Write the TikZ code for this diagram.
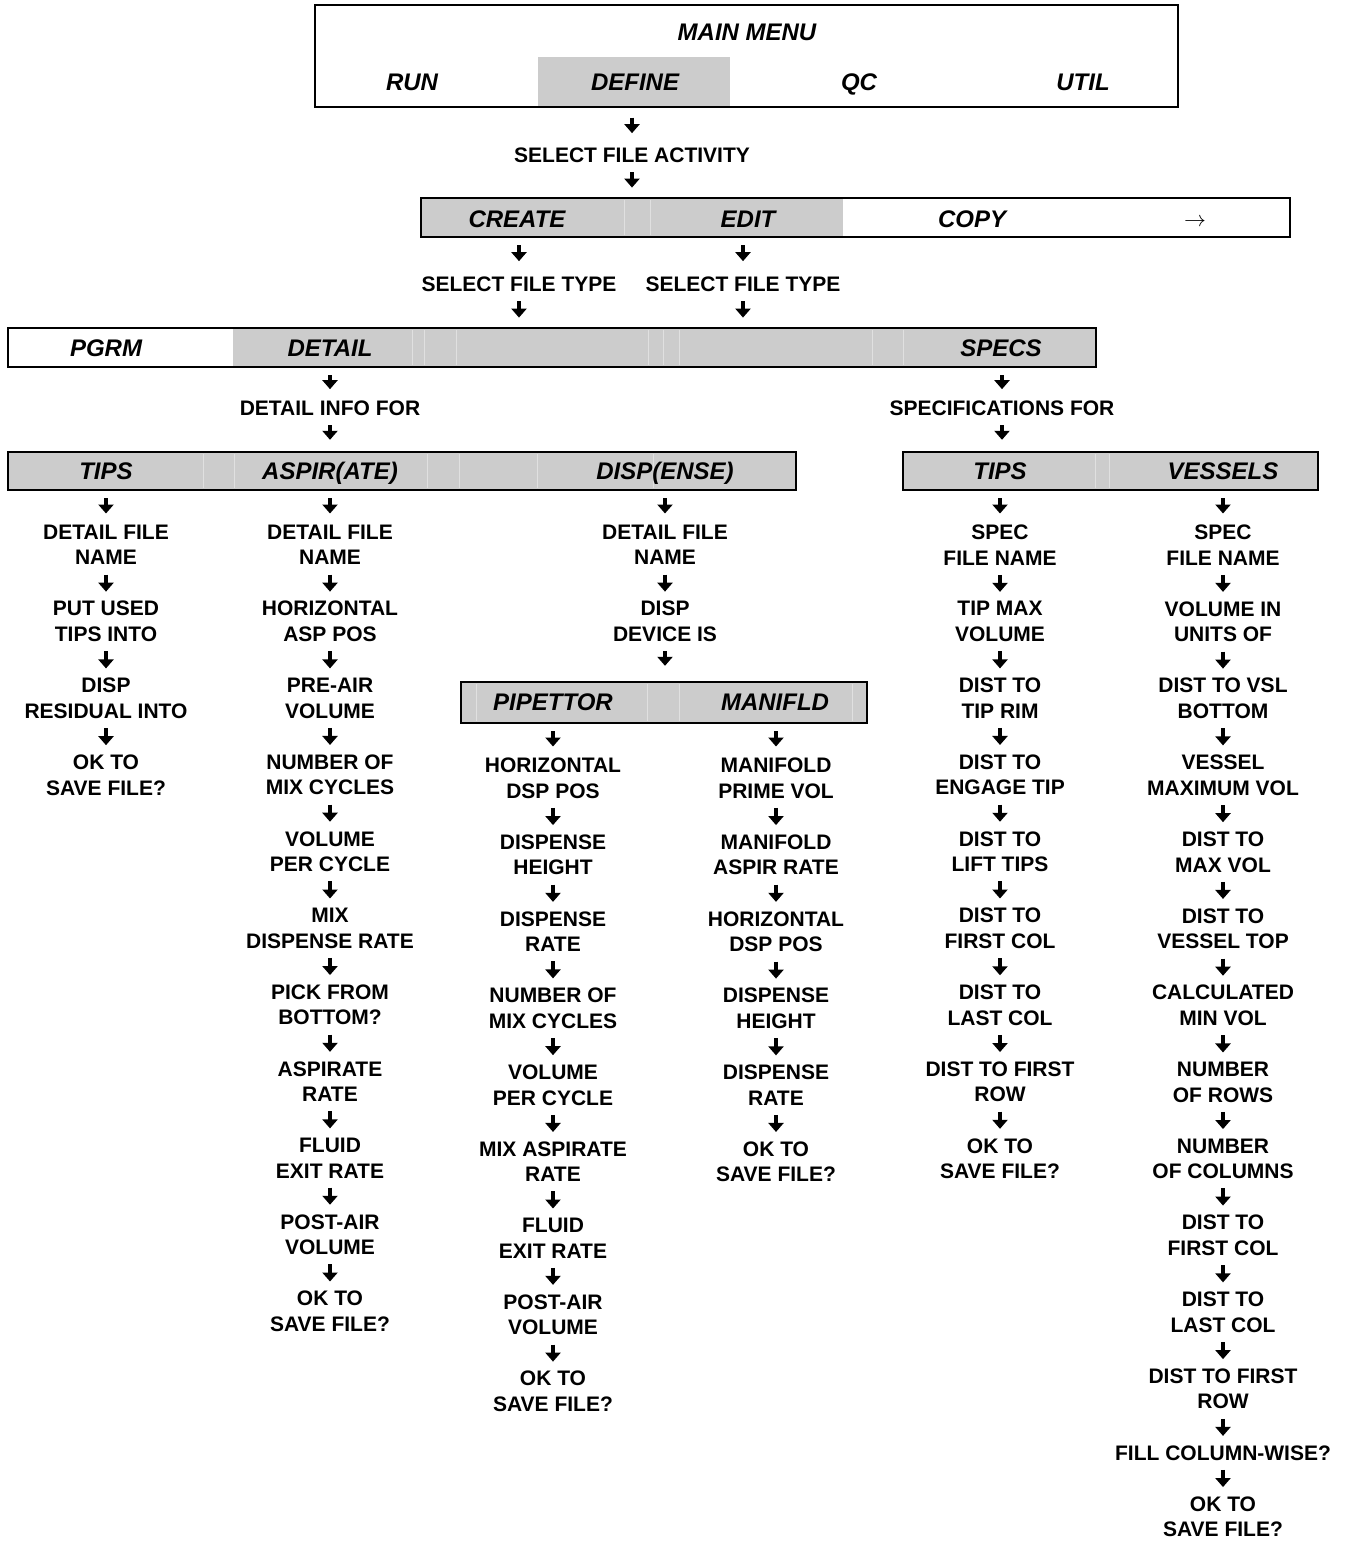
\documentclass[tikz,border=0pt]{standalone}
\usepackage{fontspec}
\setmainfont{Liberation Sans}
\usetikzlibrary{
    arrows.meta,
    positioning
}
\definecolor{cellgray}{RGB}{204,204,204}
\definecolor{celledge}{RGB}{224,224,224}
\newcommand{\chartsize}{\fontsize{10.5pt}{12.8pt}\selectfont}
\newcommand{\tabsize}{\fontsize{12pt}{14pt}\selectfont}
\tikzset{
    item/.style={
        font=\chartsize\bfseries,
        align=center,
        inner sep=0pt
    },
    tab/.style={
        font=\tabsize\bfseries\itshape,
        inner sep=0pt,
        text height=8.6pt,
        text depth=0pt
    },
    bar/.style={
        draw,
        line width=1.2pt,
        inner sep=0pt
    },
    arr/.style={
        -{Triangle[width=7.5pt,length=4.5pt]},
        line width=2pt,
        shorten <=4.6pt,
        shorten >=4.6pt
    },
    arrb/.style={
        arr,
        shorten <=3.5pt,
        shorten >=5.5pt
    }
}

\begin{document}
\begin{tikzpicture}[x=0.5pt, y=-0.5pt, node distance=17.75pt]
\useasboundingbox (0,0) rectangle (1346,1541);

% shaded cells
\fill[cellgray] (538,57) rectangle (730,107);
\fill[cellgray] (421,198) rectangle (843,237);
\fill[cellgray] (233,328) rectangle (1096,367);
\fill[cellgray] (8,452) rectangle (796,490);
\fill[cellgray] (903,452) rectangle (1318,490);
\fill[cellgray] (461,682) rectangle (867,723);

% faint cell borders
\foreach \x in {624,650}
    \draw[celledge, line width=0.5pt] (\x,200) -- (\x,235);
\foreach \x in {412,424,456,648,663,679,872,903}
    \draw[celledge, line width=0.5pt] (\x,330) -- (\x,365);
\foreach \x in {203,234,427,459,537,653}
    \draw[celledge, line width=0.5pt] (\x,454) -- (\x,488);
\foreach \x in {1095,1109}
    \draw[celledge, line width=0.5pt] (\x,454) -- (\x,488);
\foreach \x in {476,647,679,852}
    \draw[celledge, line width=0.5pt] (\x,684) -- (\x,721);

% menu bars
\node[bar, minimum width=431.5pt, minimum height=51pt] (menubar) at (746.5,56) {};
\node[bar, minimum width=434.5pt, minimum height=19.5pt] (actbar) at (855.5,217.5) {};
\node[bar, minimum width=544pt, minimum height=19.5pt] (typebar) at (552,347.5) {};
\node[bar, minimum width=394pt, minimum height=19pt] (detbar) at (402,471) {};
\node[bar, minimum width=207.5pt, minimum height=19pt] (specbar) at (1110.5,471) {};
\node[bar, minimum width=203pt, minimum height=20.5pt] (devbar) at (664,702.5) {};

% menu entries
\node[tab] (mainmenu) at (747,32) {MAIN MENU};
\node[tab] (run) at (412,82) {RUN};
\node[tab] (define) at (635,82) {DEFINE};
\node[tab] (qc) at (859,82) {QC};
\node[tab] (util) at (1083,82) {UTIL};

\node[item] (selact) at (632,155) {SELECT FILE ACTIVITY};

\node[tab] (create) at (517,219) {CREATE};
\node[tab] (edit) at (748,219) {EDIT};
\node[tab] (copy) at (972,219) {COPY};
\node[tab, font=\chartsize\normalfont] (more) at (1195,218) {$\rightarrow$};

\node[item] (ftype1) at (519,284) {SELECT FILE TYPE};
\node[item] (ftype2) at (743,284) {SELECT FILE TYPE};

\node[tab] (pgrm) at (106,348) {PGRM};
\node[tab] (detail) at (330,348) {DETAIL};
\node[tab] (specs) at (1001,348) {SPECS};

\node[item] (dinfo) at (330,408) {DETAIL INFO FOR};
\node[item] (sinfo) at (1002,408) {SPECIFICATIONS FOR};

\node[tab] (tips) at (106,471) {TIPS};
\node[tab] (aspir) at (330,471) {ASPIR(ATE)};
\node[tab] (disp) at (665,471) {DISP(ENSE)};
\node[tab] (stips) at (1000,471) {TIPS};
\node[tab] (vessels) at (1223,471) {VESSELS};

\node[tab] (pipettor) at (553,702) {PIPETTOR};
\node[tab] (manifld) at (775,702) {MANIFLD};

% tips detail
\node[item, anchor=north] (tp1) at (106,524.5) {DETAIL FILE\\NAME};
\node[item, below=of tp1] (tp2) {PUT USED\\TIPS INTO};
\node[item, below=of tp2] (tp3) {DISP\\RESIDUAL INTO};
\node[item, below=of tp3] (tp4) {OK TO\\SAVE FILE?};

% aspirate detail
\node[item, anchor=north] (as1) at (330,524.5) {DETAIL FILE\\NAME};
\node[item, below=of as1] (as2) {HORIZONTAL\\ASP POS};
\node[item, below=of as2] (as3) {PRE-AIR\\VOLUME};
\node[item, below=of as3] (as4) {NUMBER OF\\MIX CYCLES};
\node[item, below=of as4] (as5) {VOLUME\\PER CYCLE};
\node[item, below=of as5] (as6) {MIX\\DISPENSE RATE};
\node[item, below=of as6] (as7) {PICK FROM\\BOTTOM?};
\node[item, below=of as7] (as8) {ASPIRATE\\RATE};
\node[item, below=of as8] (as9) {FLUID\\EXIT RATE};
\node[item, below=of as9] (as10) {POST-AIR\\VOLUME};
\node[item, below=of as10] (as11) {OK TO\\SAVE FILE?};

% dispense detail
\node[item, anchor=north] (ds1) at (665,524.5) {DETAIL FILE\\NAME};
\node[item, below=of ds1] (ds2) {DISP\\DEVICE IS};

\node[item, anchor=north] (pp1) at (553,757.5) {HORIZONTAL\\DSP POS};
\node[item, below=of pp1] (pp2) {DISPENSE\\HEIGHT};
\node[item, below=of pp2] (pp3) {DISPENSE\\RATE};
\node[item, below=of pp3] (pp4) {NUMBER OF\\MIX CYCLES};
\node[item, below=of pp4] (pp5) {VOLUME\\PER CYCLE};
\node[item, below=of pp5] (pp6) {MIX ASPIRATE\\RATE};
\node[item, below=of pp6] (pp7) {FLUID\\EXIT RATE};
\node[item, below=of pp7] (pp8) {POST-AIR\\VOLUME};
\node[item, below=of pp8] (pp9) {OK TO\\SAVE FILE?};

\node[item, anchor=north] (mf1) at (776,757.5) {MANIFOLD\\PRIME VOL};
\node[item, below=of mf1] (mf2) {MANIFOLD\\ASPIR RATE};
\node[item, below=of mf2] (mf3) {HORIZONTAL\\DSP POS};
\node[item, below=of mf3] (mf4) {DISPENSE\\HEIGHT};
\node[item, below=of mf4] (mf5) {DISPENSE\\RATE};
\node[item, below=of mf5] (mf6) {OK TO\\SAVE FILE?};

% tip specs
\node[item, anchor=north] (st1) at (1000,524.5) {SPEC\\FILE NAME};
\node[item, below=of st1] (st2) {TIP MAX\\VOLUME};
\node[item, below=of st2] (st3) {DIST TO\\TIP RIM};
\node[item, below=of st3] (st4) {DIST TO\\ENGAGE TIP};
\node[item, below=of st4] (st5) {DIST TO\\LIFT TIPS};
\node[item, below=of st5] (st6) {DIST TO\\FIRST COL};
\node[item, below=of st6] (st7) {DIST TO\\LAST COL};
\node[item, below=of st7] (st8) {DIST TO FIRST\\ROW};
\node[item, below=of st8] (st9) {OK TO\\SAVE FILE?};

% vessel specs
\node[item, anchor=north] (vs1) at (1223,524.5) {SPEC\\FILE NAME};
\node[item, below=of vs1] (vs2) {VOLUME IN\\UNITS OF};
\node[item, below=of vs2] (vs3) {DIST TO VSL\\BOTTOM};
\node[item, below=of vs3] (vs4) {VESSEL\\MAXIMUM VOL};
\node[item, below=of vs4] (vs5) {DIST TO\\MAX VOL};
\node[item, below=of vs5] (vs6) {DIST TO\\VESSEL TOP};
\node[item, below=of vs6] (vs7) {CALCULATED\\MIN VOL};
\node[item, below=of vs7] (vs8) {NUMBER\\OF ROWS};
\node[item, below=of vs8] (vs9) {NUMBER\\OF COLUMNS};
\node[item, below=of vs9] (vs10) {DIST TO\\FIRST COL};
\node[item, below=of vs10] (vs11) {DIST TO\\LAST COL};
\node[item, below=of vs11] (vs12) {DIST TO FIRST\\ROW};
\node[item, below=of vs12] (vs13) {FILL COLUMN-WISE?};
\node[item, below=of vs13] (vs14) {OK TO\\SAVE FILE?};

% top of the tree
\draw[arr, shorten <=4.7pt, shorten >=7pt] (selact |- menubar.south) -- (selact);
\draw[arr] (selact) -- (selact |- actbar.north);
\draw[arrb, shorten >=7.5pt] (ftype1 |- actbar.south) -- (ftype1);
\draw[arrb, shorten >=7.5pt] (ftype2 |- actbar.south) -- (ftype2);
\draw[arr] (ftype1) -- (ftype1 |- typebar.north);
\draw[arr] (ftype2) -- (ftype2 |- typebar.north);
\draw[arrb] (dinfo |- typebar.south) -- (dinfo);
\draw[arrb] (sinfo |- typebar.south) -- (sinfo);
\draw[arr, shorten >=5.5pt] (dinfo) -- (dinfo |- detbar.north);
\draw[arr, shorten >=5.5pt] (sinfo) -- (sinfo |- specbar.north);

% tips detail
\draw[arrb] (tips |- detbar.south) -- (tp1);
\draw[arr] (tp1) -- (tp2);
\draw[arr] (tp2) -- (tp3);
\draw[arr] (tp3) -- (tp4);

% aspirate detail
\draw[arrb] (aspir |- detbar.south) -- (as1);
\draw[arr] (as1) -- (as2);
\draw[arr] (as2) -- (as3);
\draw[arr] (as3) -- (as4);
\draw[arr] (as4) -- (as5);
\draw[arr] (as5) -- (as6);
\draw[arr] (as6) -- (as7);
\draw[arr] (as7) -- (as8);
\draw[arr] (as8) -- (as9);
\draw[arr] (as9) -- (as10);
\draw[arr] (as10) -- (as11);

% dispense detail
\draw[arrb] (disp |- detbar.south) -- (ds1);
\draw[arr] (ds1) -- (ds2);
\draw[arr, shorten >=7.5pt] (ds2) -- (ds2 |- devbar.north);

\draw[arrb] (pipettor |- devbar.south) -- (pp1);
\draw[arr] (pp1) -- (pp2);
\draw[arr] (pp2) -- (pp3);
\draw[arr] (pp3) -- (pp4);
\draw[arr] (pp4) -- (pp5);
\draw[arr] (pp5) -- (pp6);
\draw[arr] (pp6) -- (pp7);
\draw[arr] (pp7) -- (pp8);
\draw[arr] (pp8) -- (pp9);

\draw[arrb] (mf1 |- devbar.south) -- (mf1);
\draw[arr] (mf1) -- (mf2);
\draw[arr] (mf2) -- (mf3);
\draw[arr] (mf3) -- (mf4);
\draw[arr] (mf4) -- (mf5);
\draw[arr] (mf5) -- (mf6);

% tip specs
\draw[arrb] (stips |- specbar.south) -- (st1);
\draw[arr] (st1) -- (st2);
\draw[arr] (st2) -- (st3);
\draw[arr] (st3) -- (st4);
\draw[arr] (st4) -- (st5);
\draw[arr] (st5) -- (st6);
\draw[arr] (st6) -- (st7);
\draw[arr] (st7) -- (st8);
\draw[arr] (st8) -- (st9);

% vessel specs
\draw[arrb] (vessels |- specbar.south) -- (vs1);
\draw[arr] (vs1) -- (vs2);
\draw[arr] (vs2) -- (vs3);
\draw[arr] (vs3) -- (vs4);
\draw[arr] (vs4) -- (vs5);
\draw[arr] (vs5) -- (vs6);
\draw[arr] (vs6) -- (vs7);
\draw[arr] (vs7) -- (vs8);
\draw[arr] (vs8) -- (vs9);
\draw[arr] (vs9) -- (vs10);
\draw[arr] (vs10) -- (vs11);
\draw[arr] (vs11) -- (vs12);
\draw[arr] (vs12) -- (vs13);
\draw[arr] (vs13) -- (vs14);

\end{tikzpicture}
\end{document}
